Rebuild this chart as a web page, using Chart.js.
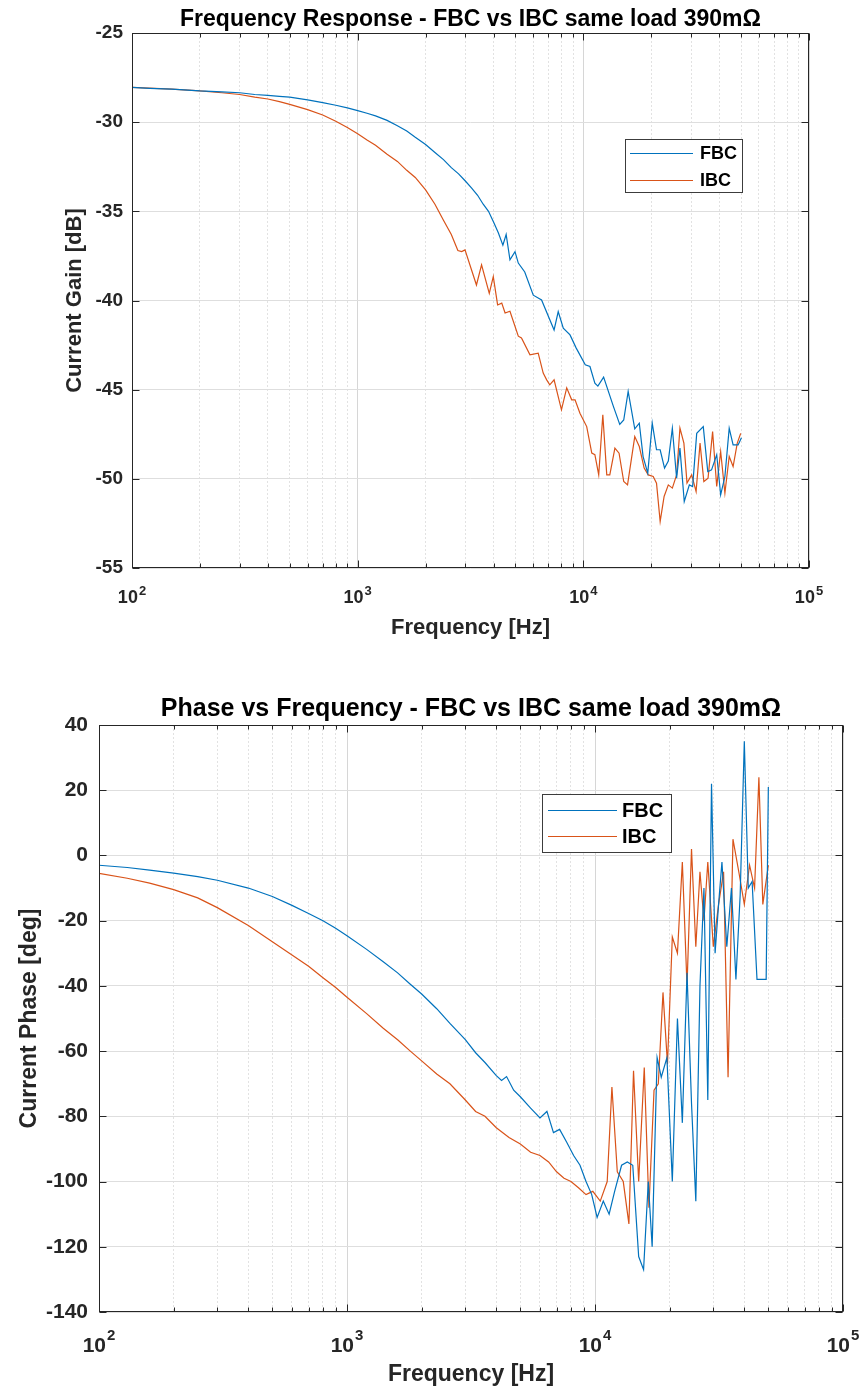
<!DOCTYPE html>
<html><head><meta charset="utf-8">
<script src="https://cdn.jsdelivr.net/npm/chart.js@4.4.0/dist/chart.umd.min.js"></script>
<style>
html,body{margin:0;padding:0;background:#fff;}
#wrap{position:relative;width:864px;height:1394px;overflow:hidden;}
canvas{position:absolute;left:0;}
</style></head><body>
<div id="wrap">
<canvas id="c1" width="864" height="680" style="top:0px"></canvas>
<canvas id="c2" width="864" height="714" style="top:680px"></canvas>
</div>
<script>
// ---------------- DATA ----------------
const seriesNames = ['FBC', 'IBC'];
const gainTicks = [-55, -50, -45, -40, -35, -30, -25];
const phaseTicks = [-140, -120, -100, -80, -60, -40, -20, 0, 20, 40];
const decadeTicks = [100, 1000, 10000, 100000];
const gridFreqs = [100,200,300,400,500,600,700,800,900,1000,2000,3000,4000,5000,6000,7000,8000,9000,10000,20000,30000,40000,50000,60000,70000,80000,90000,100000];

const fbcGainFreq = [100,120,150,200,250,300,350,400,450,500,600,700,800,900,1000,1100,1200,1350,1500,1650,1800,2000,2200,2400,2600,2800,3000,3200,3400,3600,3800,4000,4200,4400,4550,4730,4980,5150,5500,6000,6530,7420,7740,8150,8730,9300,10200,10700,11250,11600,12300,13600,14500,15100,15800,16900,17700,18400,19300,20200,21100,21900,22900,23800,24800,25900,26800,28000,29500,30500,31800,34000,35600,37000,39000,40600,42400,44300,46100,48500,50200];
const fbcGain = [-28.05,-28.1,-28.15,-28.25,-28.3,-28.35,-28.45,-28.5,-28.55,-28.6,-28.75,-28.9,-29.05,-29.2,-29.35,-29.5,-29.65,-29.9,-30.2,-30.5,-30.85,-31.25,-31.7,-32.1,-32.55,-32.9,-33.3,-33.7,-34.1,-34.6,-35.0,-35.6,-36.2,-36.9,-36.3,-37.72,-37.26,-37.9,-38.4,-39.7,-39.97,-41.65,-40.62,-41.55,-41.93,-42.67,-43.6,-43.7,-44.64,-44.8,-44.3,-45.95,-46.95,-46.7,-45.1,-47.2,-46.88,-48.75,-49.68,-46.88,-48.37,-48.37,-49.4,-49.0,-47.16,-49.96,-48.28,-51.27,-50.34,-50.43,-47.45,-47.07,-49.6,-49.5,-48.65,-50.9,-49.87,-47.16,-48.1,-48.1,-47.7];

const ibcGainFreq = [100,150,200,250,300,350,400,450,500,600,700,800,900,1000,1100,1200,1350,1500,1650,1800,2000,2200,2400,2600,2780,2890,2990,3360,3540,3830,3990,4170,4350,4500,4730,5150,5320,5800,6310,6640,6880,7100,7420,8000,8440,8880,9190,9660,10350,10900,11250,11700,12200,12700,13100,13800,14400,15100,15700,16900,17700,18600,19400,20400,21100,21900,22800,23800,24800,25900,26800,27900,28800,30200,31600,32900,34200,35700,37400,39000,40600,42400,44300,46100,48100,49800];
const ibcGain = [-28.05,-28.15,-28.25,-28.35,-28.45,-28.6,-28.7,-28.85,-29.0,-29.3,-29.6,-29.95,-30.3,-30.65,-31.0,-31.3,-31.8,-32.2,-32.7,-33.1,-33.8,-34.6,-35.5,-36.3,-37.2,-37.26,-37.16,-39.13,-38.0,-39.6,-38.66,-40.25,-40.15,-40.7,-40.6,-42.0,-42.1,-43.05,-42.95,-44.07,-44.45,-44.73,-44.45,-46.13,-44.9,-45.57,-45.57,-46.32,-47.07,-48.56,-48.65,-49.78,-46.41,-49.78,-49.78,-48.28,-48.56,-50.15,-50.34,-47.63,-48.19,-49.4,-49.78,-49.87,-50.24,-52.39,-50.99,-50.34,-50.52,-49.78,-47.16,-48.0,-50.24,-49.78,-50.71,-48.0,-50.15,-49.96,-47.35,-50.43,-48.47,-50.8,-48.75,-49.31,-48.0,-47.45];

const fbcPhaseFreq = [100,130,160,200,250,300,400,500,600,700,800,900,1000,1200,1400,1600,1800,2000,2300,2600,3000,3300,3600,4000,4200,4400,4700,5000,5500,6000,6400,6800,7200,7700,8200,8700,9200,9700,10200,10800,11400,12000,12800,13500,14200,15000,15700,16400,17000,17800,18500,19500,20500,21500,22500,23500,24500,25500,26500,27500,28500,29500,30500,31500,32500,34000,35500,37000,38500,40000,41500,43000,45000,47000,49000,50000];
const fbcPhase = [-3.0,-3.7,-4.5,-5.4,-6.5,-7.6,-10.0,-12.6,-15.3,-17.8,-20.0,-22.3,-24.6,-28.8,-32.6,-36.0,-39.5,-42.5,-47.0,-51.5,-56.5,-60.5,-63.5,-67.5,-69.0,-67.8,-72.0,-74.0,-77.5,-80.5,-78.5,-85,-84,-88,-92,-95,-100,-104,-111,-106,-110,-103,-95,-94,-95,-123,-127,-100,-120,-62,-68,-62,-100,-50,-82,-36,-76,-106,-40,-10,-75,22,-30,-15,-2,-28,-10,-38,-12,35,-10,-8,-38,-38,-38,21];

const ibcPhaseFreq = [100,130,160,200,250,300,400,500,600,700,800,900,1000,1200,1400,1600,1800,2000,2300,2600,3000,3300,3600,4000,4500,5000,5500,6000,6500,7000,7500,8000,8600,9200,9800,10500,11200,11700,12300,13000,13700,14300,15000,15800,16500,17300,18000,18800,19600,20500,21500,22500,23500,24500,25500,26500,27500,28500,30000,31500,33000,34400,36000,38000,40000,42000,44000,45800,47500,50000];
const ibcPhase = [-5.5,-7,-8.5,-10.5,-13,-16,-21.5,-26.5,-30.5,-34,-37.5,-40.5,-43.5,-48.5,-53,-56.5,-60,-63,-67,-70,-75,-78.5,-80,-83.5,-86.5,-88.5,-91,-92,-94,-97,-99,-100,-102,-104,-103,-106,-100,-71,-97,-100,-113,-66,-100,-65,-108,-72,-70,-42,-64,-25,-30,-2,-40,2,-28,-5,-20,-2,-28,-15,-5,-68,5,-5,-15,-3,-10,24,-15,-3];

// ---------------- RENDERING ----------------
const FAM = "'Liberation Sans', Arial, Helvetica, sans-serif";
Chart.defaults.font.family = FAM;
Chart.defaults.color = '#262626';
const BLUE = '#0072BD', ORANGE = '#D95319';

function pts(xs, ys) { return xs.map((x, i) => ({ x: x, y: ys[i] })); }
function isDecade(v) { return decadeTicks.indexOf(v) >= 0; }

const boxPlugin = {
  id: 'matlabBox',
  afterDraw(chart, args, o) {
    const ctx = chart.ctx, a = chart.chartArea, xs = chart.scales.x, ys = chart.scales.y;
    ctx.save();
    ctx.strokeStyle = '#262626'; ctx.lineWidth = 1;
    const L = Math.round(a.left) + 0.5, R = Math.round(a.right) - 0.5, T = Math.round(a.top) + 0.5, B = Math.round(a.bottom) - 0.5;
    ctx.beginPath();
    gridFreqs.forEach(v => {
      const px = Math.round(xs.getPixelForValue(v)) + 0.5;
      const len = isDecade(v) ? 7 : 4;
      ctx.moveTo(px, B); ctx.lineTo(px, B - len);
      ctx.moveTo(px, T); ctx.lineTo(px, T + len);
    });
    o.yTicks.forEach(v => {
      const py = Math.round(ys.getPixelForValue(v)) + 0.5;
      ctx.moveTo(L, py); ctx.lineTo(L + 7, py);
      ctx.moveTo(R, py); ctx.lineTo(R - 7, py);
    });
    ctx.stroke();
    ctx.strokeRect(L, T, R - L, B - T);
    // decade tick labels with superscript exponent
    ctx.fillStyle = '#262626'; ctx.textBaseline = 'alphabetic'; ctx.textAlign = 'left';
    decadeTicks.forEach(v => {
      const px = xs.getPixelForValue(v);
      const exp = String(Math.round(Math.log10(v)));
      ctx.font = 'bold ' + o.size + 'px ' + FAM;
      const w1 = ctx.measureText('10').width;
      ctx.font = 'bold ' + o.expSize + 'px ' + FAM;
      const w2 = ctx.measureText(exp).width;
      const left = px - (w1 + w2 + 1) / 2;
      ctx.font = 'bold ' + o.size + 'px ' + FAM;
      ctx.fillText('10', left, a.bottom + o.baseOff);
      ctx.font = 'bold ' + o.expSize + 'px ' + FAM;
      ctx.fillText(exp, left + w1 + 1, a.bottom + o.expOff);
    });
    // legend
    const lg = o.legend;
    ctx.fillStyle = '#ffffff';
    ctx.fillRect(lg.x, lg.y, lg.w, lg.h);
    ctx.strokeStyle = '#3c3c3c';
    ctx.strokeRect(lg.x + 0.5, lg.y + 0.5, lg.w - 1, lg.h - 1);
    chart.data.datasets.forEach((ds, i) => {
      const yy = lg.y + lg.row0 + i * lg.rowH;
      ctx.strokeStyle = ds.borderColor; ctx.lineWidth = 1.2;
      ctx.beginPath(); ctx.moveTo(lg.x + lg.l0, yy + 0.5); ctx.lineTo(lg.x + lg.l1, yy + 0.5); ctx.stroke();
      ctx.fillStyle = '#000'; ctx.font = 'bold ' + lg.font + 'px ' + FAM; ctx.textBaseline = 'middle';
      ctx.fillText(ds.label, lg.x + lg.tx, yy + 1);
    });
    ctx.restore();
  }
};

function makeChart(id, cfg) {
  return new Chart(document.getElementById(id), {
    type: 'line',
    data: {
      datasets: [
        { label: seriesNames[0], data: cfg.fbc, borderColor: BLUE, borderWidth: 1.2, pointRadius: 0, tension: 0, fill: false },
        { label: seriesNames[1], data: cfg.ibc, borderColor: ORANGE, borderWidth: 1.2, pointRadius: 0, tension: 0, fill: false }
      ]
    },
    plugins: [boxPlugin],
    options: {
      responsive: false, animation: false, events: [],
      layout: { padding: cfg.pad },
      plugins: {
        legend: { display: false }, tooltip: { enabled: false },
        title: { display: true, text: cfg.title, fullSize: false, color: '#000',
          font: { size: cfg.titleSize, weight: 'bold', lineHeight: 1.2 }, padding: cfg.titlePad },
        matlabBox: cfg.box
      },
      scales: {
        x: {
          type: 'logarithmic', min: 100, max: 100000, position: 'bottom',
          afterBuildTicks: s => { s.ticks = gridFreqs.map(v => ({ value: v })); },
          afterFit: s => { s.height = cfg.xH; },
          ticks: { display: false, autoSkip: false },
          grid: { drawTicks: false, color: c => isDecade(c.tick.value) ? '#d6d6d6' : '#e2e2e2', lineWidth: 1 },
          border: { display: false, dash: c => (c.tick && isDecade(c.tick.value)) ? [] : [2, 2] },
          title: { display: true, text: 'Frequency [Hz]', color: '#262626',
            font: { size: cfg.xtSize, weight: 'bold', lineHeight: 1.2 }, padding: { top: 0, bottom: cfg.xtPad } }
        },
        y: {
          type: 'linear', min: cfg.yTicks[0], max: cfg.yTicks[cfg.yTicks.length - 1], position: 'left',
          afterBuildTicks: s => { s.ticks = cfg.yTicks.map(v => ({ value: v })); },
          afterFit: s => { s.width = cfg.yW; },
          ticks: { font: { size: cfg.tickSize, weight: 'bold' }, color: '#262626', padding: cfg.tickPad, autoSkip: false },
          grid: { drawTicks: false, color: '#dedede', lineWidth: 1 },
          border: { display: false },
          title: { display: true, text: cfg.yLabel, color: '#262626',
            font: { size: cfg.ytSize, weight: 'bold', lineHeight: 1.2 }, padding: { top: cfg.ytPad, bottom: 0 } }
        }
      }
    }
  });
}

makeChart('c1', {
  fbc: pts(fbcGainFreq, fbcGain), ibc: pts(ibcGainFreq, ibcGain),
  title: 'Frequency Response - FBC vs IBC same load 390m\u03A9', titleSize: 23, titlePad: { top: 0, bottom: 0 },
  pad: { left: 0, right: 55, top: 5.4, bottom: 0 },
  xH: 112, yW: 132, yTicks: gainTicks, tickSize: 19, tickPad: 9,
  xtSize: 22, xtPad: 38.8, ytSize: 22, ytPad: 61.8, yLabel: 'Current Gain [dB]',
  box: { yTicks: gainTicks, size: 18, expSize: 13, baseOff: 35, expOff: 27,
    legend: { x: 625, y: 139, w: 118, h: 54, row0: 14, rowH: 27, l0: 5, l1: 68, tx: 75, font: 18 } }
});

makeChart('c2', {
  fbc: pts(fbcPhaseFreq, fbcPhase), ibc: pts(ibcPhaseFreq, ibcPhase),
  title: 'Phase vs Frequency - FBC vs IBC same load 390m\u03A9', titleSize: 25, titlePad: { top: 0, bottom: 1.0 },
  pad: { left: 0, right: 21, top: 14.0, bottom: 0 },
  xH: 82, yW: 99, yTicks: phaseTicks, tickSize: 21, tickPad: 11,
  xtSize: 23, xtPad: 5.2, ytSize: 23, ytPad: 16.2, yLabel: 'Current Phase [deg]',
  box: { yTicks: phaseTicks, size: 21, expSize: 15, baseOff: 40, expOff: 28,
    legend: { x: 542, y: 114, w: 130, h: 59, row0: 16, rowH: 26, l0: 6, l1: 75, tx: 80, font: 20 } }
});
</script>
</body></html>
